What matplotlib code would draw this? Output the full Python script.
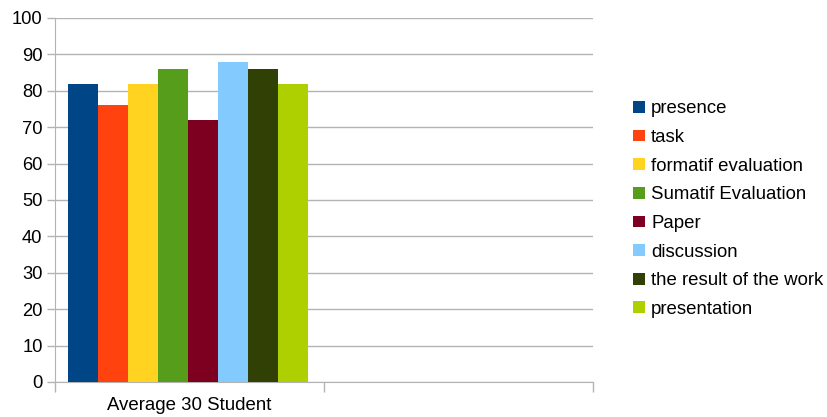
import numpy as np
import matplotlib.pyplot as plt
from matplotlib.patches import Patch

plt.rcParams['font.family'] = ['Liberation Sans', 'DejaVu Sans']

# data
category = 'Average 30 Student'
labels = ['presence', 'task', 'formatif evaluation', 'Sumatif Evaluation',
          'Paper', 'discussion', 'the result of the work', 'presentation']
values = [82, 76, 82, 86, 72, 88, 86, 82]
colors = ['#004586', '#ff420e', '#ffd320', '#579d1c',
          '#7e0021', '#83caff', '#314004', '#aecf00']

fig = plt.figure(figsize=(8.27, 4.17), dpi=100)
ax = fig.add_axes([55/827, 35/417, 538/827, 364/417])

grid = '#b3b3b3'
n = len(values)
span = 0.89  # bars fill most of the category slot
w = span / n
x0 = 0.495 - span / 2
for i, (v, c) in enumerate(zip(values, colors)):
    ax.bar(x0 + w*i, v, width=w, align='edge', color=c, zorder=3)

ax.set_xlim(0, 2)
ax.set_ylim(0, 100)
ax.set_yticks(np.arange(0, 101, 10))
ax.yaxis.grid(True, color=grid, linewidth=1, zorder=0)

# category boundaries as ticks, label centred in the first slot
ax.set_xticks([0, 1, 2])
ax.set_xticklabels([])
ax.set_xticks([0.5], minor=True)
ax.set_xticklabels([category], minor=True)
ax.tick_params(axis='x', which='major', length=7, color=grid, width=1)
ax.tick_params(axis='x', which='minor', length=0, pad=11, labelsize=13.4)
ax.tick_params(axis='y', length=6, color=grid, width=1, labelsize=13.2, pad=3)

for s in ['top', 'right']:
    ax.spines[s].set_visible(False)
for s in ['left', 'bottom']:
    ax.spines[s].set_color(grid)

handles = [Patch(facecolor=c, edgecolor='none') for c in colors]
fig.legend(handles, labels, loc='upper left', bbox_to_anchor=(626/827, 1 - 93/417),
           frameon=False, fontsize=13.4, handlelength=0.6, handleheight=0.6,
           handletextpad=0.35, labelspacing=0.625, borderaxespad=0)

fig.savefig('out.png', dpi=100)
